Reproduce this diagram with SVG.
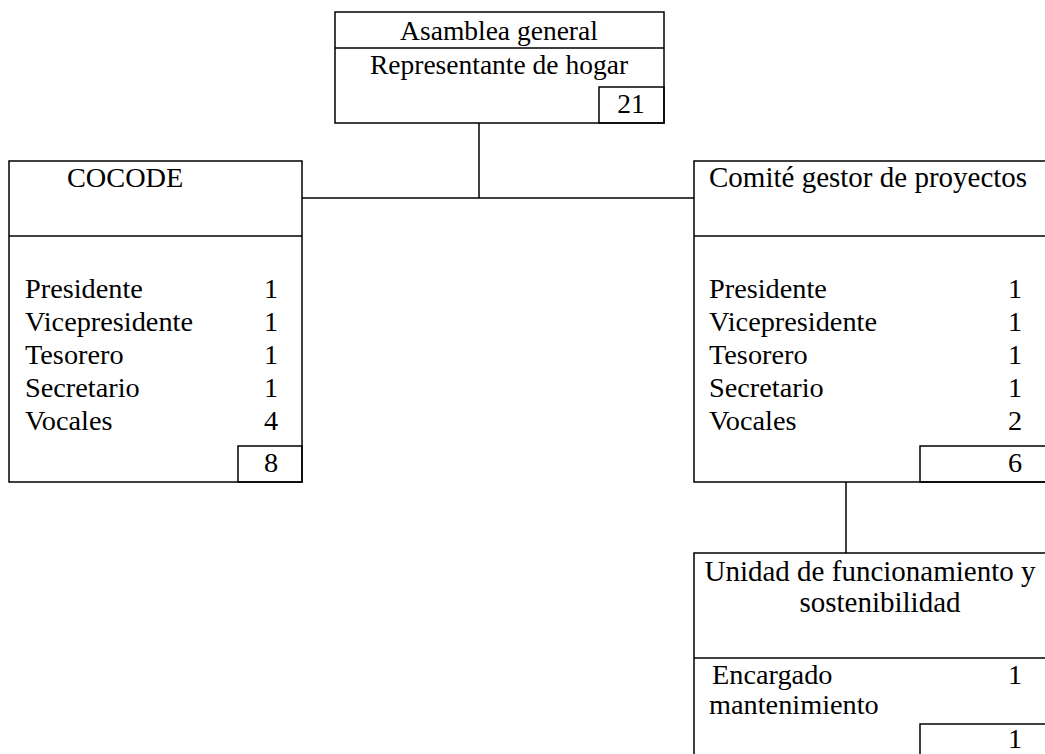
<svg xmlns="http://www.w3.org/2000/svg" width="1045" height="754" viewBox="0 0 1045 754">
<style>
rect,line{fill:none;stroke:#000;stroke-width:1.5}
text{font-family:"Liberation Serif","Times New Roman",serif;font-size:28.3px;fill:#000}
.t{font-size:27.5px}
.w{font-size:29px}
.c{text-anchor:middle}
</style>
<rect x="0" y="0" width="1045" height="754" style="fill:#fff;stroke:none"/>
<g id="connectors">
<line x1="479" y1="123" x2="479" y2="198"/>
<line x1="302" y1="198" x2="694" y2="198"/>
<line x1="846" y1="482" x2="846" y2="553"/>
</g>
<g id="asamblea">
<rect x="335" y="12" width="329" height="111"/>
<line x1="335" y1="48" x2="664" y2="48"/>
<rect x="599" y="87" width="65" height="36"/>
<text class="c t" x="499" y="40">Asamblea general</text>
<text class="c t" x="499" y="74">Representante de hogar</text>
<text class="c t" x="631" y="113">21</text>
</g>
<g id="cocode">
<rect x="9" y="161" width="293" height="321"/>
<line x1="9" y1="236" x2="302" y2="236"/>
<rect x="238" y="446" width="64" height="36"/>
<text x="67" y="187">COCODE</text>
<text x="25" y="298">Presidente</text>
<text x="25" y="331">Vicepresidente</text>
<text x="25" y="364">Tesorero</text>
<text x="25" y="397">Secretario</text>
<text x="25" y="430">Vocales</text>
<text class="c" x="271" y="298">1</text>
<text class="c" x="271" y="331">1</text>
<text class="c" x="271" y="364">1</text>
<text class="c" x="271" y="397">1</text>
<text class="c" x="271" y="430">4</text>
<text class="c" x="271" y="472">8</text>
</g>
<g id="comite">
<rect x="694" y="161" width="400" height="321"/>
<line x1="694" y1="236" x2="1094" y2="236"/>
<rect x="920" y="446" width="174" height="36"/>
<text class="w" x="709" y="187">Comité gestor de proyectos</text>
<text x="709" y="298">Presidente</text>
<text x="709" y="331">Vicepresidente</text>
<text x="709" y="364">Tesorero</text>
<text x="709" y="397">Secretario</text>
<text x="709" y="430">Vocales</text>
<text class="c" x="1015" y="298">1</text>
<text class="c" x="1015" y="331">1</text>
<text class="c" x="1015" y="364">1</text>
<text class="c" x="1015" y="397">1</text>
<text class="c" x="1015" y="430">2</text>
<text class="c" x="1015" y="472">6</text>
</g>
<g id="unidad">
<rect x="694" y="553" width="400" height="260"/>
<line x1="694" y1="658" x2="1094" y2="658"/>
<rect x="920" y="724" width="174" height="80"/>
<text class="c w" x="870" y="581">Unidad de funcionamiento y</text>
<text class="c w" x="880" y="612">sostenibilidad</text>
<text x="712" y="684">Encargado</text>
<text x="709" y="714">mantenimiento</text>
<text class="c" x="1015" y="684">1</text>
<text class="c" x="1015" y="748">1</text>
</g>
</svg>
